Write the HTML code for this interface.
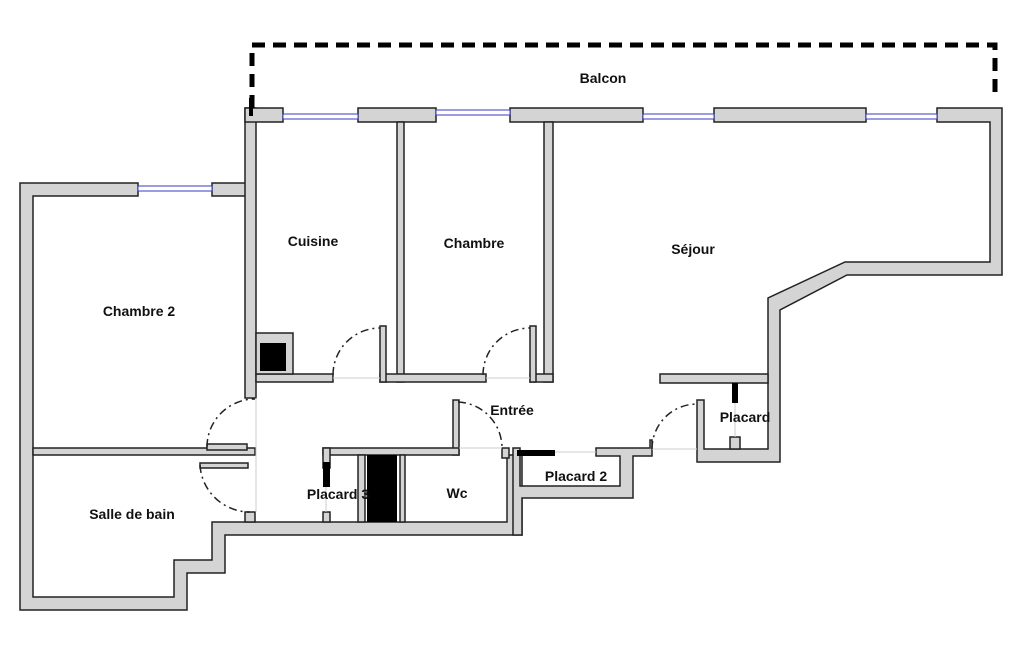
<!DOCTYPE html>
<html><head><meta charset="utf-8"><style>
html,body{margin:0;padding:0;background:#fff;}
svg{display:block}
text{font-family:"Liberation Sans","DejaVu Sans",sans-serif;font-weight:bold;font-size:14px;fill:#111}
</style></head><body>
<svg width="1025" height="650" viewBox="0 0 1025 650" xmlns="http://www.w3.org/2000/svg">
<g fill="#d4d4d4" stroke="#222" stroke-width="1.5">
<polygon points="20,183 138,183 138,196 33,196 33,597 174,597 174,560 212,560 212,522 507,522 507,455 522,455 522,535 225,535 225,573 187,573 187,610 20,610"/>
<rect x="212" y="183" width="40" height="13"/>
<rect x="245" y="108" width="11" height="290"/>
<rect x="245" y="108" width="38" height="14"/>
<rect x="358" y="108" width="78" height="14"/>
<rect x="510" y="108" width="133" height="14"/>
<rect x="714" y="108" width="152" height="14"/>
<polygon points="937,108 1002,108 1002,275 847,275 780,310 780,462 697,462 697,400 704,400 704,449 768,449 768,298 845,262 990,262 990,122 937,122"/>
<rect x="397" y="122" width="7" height="260"/>
<rect x="380" y="374" width="106" height="8"/>
<rect x="380" y="326" width="6" height="56"/>
<rect x="544" y="122" width="9" height="260"/>
<rect x="530" y="374" width="23" height="8"/>
<rect x="530" y="326" width="6" height="56"/>
<rect x="256" y="374" width="77" height="8"/>
<rect x="256" y="333" width="37" height="41"/>
<rect x="660" y="374" width="108" height="9"/>
<rect x="33" y="448" width="222" height="7"/>
<rect x="207" y="444" width="40" height="6"/>
<rect x="200" y="463" width="48" height="5"/>
<rect x="453" y="400" width="6" height="55"/>
<rect x="323" y="448" width="136" height="7"/>
<rect x="323" y="448" width="7" height="20"/>
<rect x="323" y="512" width="7" height="10"/>
<rect x="245" y="512" width="10" height="10"/>
<rect x="358" y="455" width="7" height="67"/>
<rect x="400" y="455" width="5" height="67"/>
<rect x="502" y="448" width="7" height="10"/>
<polygon points="513,448 520,448 520,486 620,486 620,456 596,456 596,448 650,448 650,440 652,440 652,456 633,456 633,498 522,498 522,535 513,535"/>
<rect x="730" y="437" width="10" height="12"/>
</g>
<g fill="#000">
<rect x="260" y="343" width="26" height="28"/>
<rect x="367" y="455" width="30" height="67"/>
<rect x="323" y="462" width="7" height="25"/>
<rect x="517" y="450" width="38" height="6"/>
<rect x="732" y="383" width="6" height="20"/>
<rect x="249" y="98" width="4" height="18"/>
</g>
<g stroke="#3a3ac0" stroke-width="1" fill="#fff">
<rect x="283" y="114" width="75" height="5"/>
<rect x="436" y="110" width="74" height="5"/>
<rect x="643" y="114" width="71" height="5"/>
<rect x="866" y="114" width="71" height="5"/>
<rect x="138" y="186" width="74" height="5"/>
</g>
<g stroke="#ccc" stroke-width="1">
<line x1="333" y1="378" x2="380" y2="378"/>
<line x1="486" y1="378" x2="530" y2="378"/>
<line x1="256" y1="398" x2="256" y2="512"/>
<line x1="459" y1="448" x2="502" y2="448"/>
<line x1="652" y1="449" x2="697" y2="449"/>
<line x1="555" y1="452" x2="596" y2="452"/>
<line x1="735" y1="403" x2="735" y2="437"/>
<line x1="326" y1="487" x2="326" y2="512"/>
</g>
<g fill="none" stroke="#222" stroke-width="1.5" stroke-dasharray="8,4,2,4">
<path d="M333,375 A47,47 0 0 1 380,328"/>
<path d="M483,375 A47,47 0 0 1 530,328"/>
<path d="M207,447 A48,48 0 0 1 255,399"/>
<path d="M200,465 A50,50 0 0 0 250,512"/>
<path d="M458,402 A46,46 0 0 1 502,448"/>
<path d="M652,449 A45,45 0 0 1 697,404"/>
</g>
<path d="M252,108 L252,45 L995,45 L995,100" fill="none" stroke="#000" stroke-width="5" stroke-dasharray="13,8"/>
<text x="603" y="83" text-anchor="middle">Balcon</text>
<text x="313" y="246" text-anchor="middle">Cuisine</text>
<text x="474" y="248" text-anchor="middle">Chambre</text>
<text x="693" y="254" text-anchor="middle">Séjour</text>
<text x="139" y="316" text-anchor="middle">Chambre 2</text>
<text x="512" y="415" text-anchor="middle">Entrée</text>
<text x="745" y="422" text-anchor="middle">Placard</text>
<text x="338" y="499" text-anchor="middle">Placard 3</text>
<text x="457" y="498" text-anchor="middle">Wc</text>
<text x="576" y="481" text-anchor="middle">Placard 2</text>
<text x="132" y="519" text-anchor="middle">Salle de bain</text>
</svg>
</body></html>
